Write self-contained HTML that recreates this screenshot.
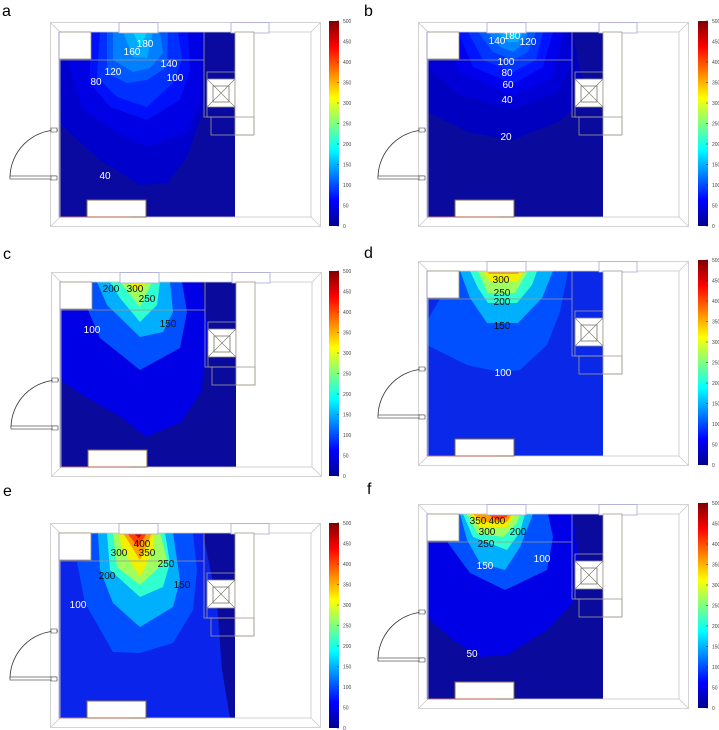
<!DOCTYPE html>
<html><head><meta charset="utf-8"><style>
html,body{margin:0;padding:0;background:#fff;}
svg{display:block;}
text{font-family:"Liberation Sans",sans-serif;}
.lb{font-size:10px;text-anchor:middle;}
.w{fill:#fff;} .k{fill:#111;}
.cb{font-size:5px;fill:#444;}
.pl{font-size:16px;fill:#000;}
</style></head><body>
<svg width="719" height="730" viewBox="0 0 719 730" xmlns="http://www.w3.org/2000/svg">
<defs>
<linearGradient id="jet" x1="0" y1="1" x2="0" y2="0">
<stop offset="0" stop-color="#00008f"/><stop offset="0.125" stop-color="#0000ff"/>
<stop offset="0.375" stop-color="#00ffff"/><stop offset="0.625" stop-color="#ffff00"/>
<stop offset="0.875" stop-color="#ff0000"/><stop offset="1" stop-color="#800000"/>
</linearGradient>
<clipPath id="fl"><rect x="9" y="10" width="176" height="185"/></clipPath>
<g id="room" fill="none" stroke-width="0.8">
  <rect x="0.5" y="0.5" width="270" height="204" stroke="#c8c8c8"/>
  <rect x="10" y="10" width="251" height="185" stroke="#c8c8c8"/>
  <path d="M0.5,0.5L10,10M270.5,0.5L261,10M0.5,204.5L10,195M270.5,204.5L261,195" stroke="#c8c8c8"/>
  <rect x="69" y="0.5" width="39" height="10.5" fill="#fff" stroke="#a8a8d8"/>
  <rect x="181" y="0.5" width="38" height="10.5" fill="#fff" stroke="#a8a8d8"/>
  <rect x="9" y="10" width="32" height="27" fill="#fff" stroke="#9a9080"/>
  <path d="M9,38H154" stroke="#999"/>
  <path d="M154,10V95H185" stroke="#9a9aa8"/>
  <rect x="157" y="50" width="28" height="45" stroke="#999"/>
  <rect x="157" y="57" width="28" height="28" fill="#fff" stroke="#888"/>
  <rect x="163" y="64" width="16" height="16" stroke="#776"/>
  <path d="M157,57L185,85M185,57L157,85" stroke="#776" stroke-width="0.6"/>
  <rect x="185" y="10" width="19" height="103" fill="#fff" stroke="#a09a90"/>
  <rect x="161" y="95" width="43" height="18" stroke="#a09a90"/>
  <rect x="37" y="178" width="59" height="17" fill="#fff" stroke="#8a6a4a" stroke-width="1"/>
  <path d="M9,195H80" stroke="#c06050"/>
  <path d="M8,108A48,48 0 0 0 -40,156" stroke="#333"/>
  <rect x="-40" y="154" width="46" height="3" fill="#fff" stroke="#333" stroke-width="0.6"/>
  <path d="M1,106h6v4h-6zM1,154h6v4h-6z" fill="#fff" stroke="#333" stroke-width="0.6"/>
  <path d="M9,10V195" stroke="#a0a0c8"/>
</g>
<g id="cbar">
  <rect x="0" y="0" width="10" height="205" fill="url(#jet)"/>
  <path d="M10,0h-2M10,20.5h-2M10,41h-2M10,61.5h-2M10,82h-2M10,102.5h-2M10,123h-2M10,143.5h-2M10,164h-2M10,184.5h-2M10,205h-2" stroke="#222" stroke-width="0.5"/>
</g>
</defs>

<!-- labels -->
<text class="pl" x="2" y="16">a</text>
<text class="pl" x="364" y="16">b</text>
<text class="pl" x="3" y="259">c</text>
<text class="pl" x="364" y="258">d</text>
<text class="pl" x="3" y="496">e</text>
<text class="pl" x="367" y="494">f</text>

<!-- Panel a -->
<g transform="translate(50,22)">
 <g clip-path="url(#fl)">
  <rect x="9" y="10" width="176" height="185" fill="#0a0aa0"/>
  <polygon fill="#0000cc" points="9,38 9,101 50,138 90,163 117,161 137,135 153,88 155,10 41,10 41,37"/>
  <polygon fill="#0000e4" points="41,10 41,37 17,38 33,88 70,112 97,125 137,111 150,78 152,10"/>
  <polygon fill="#0010fa" points="40,10 40,61 60,85 97,98 130,78 140,48 138,10"/>
  <polygon fill="#0030ff" points="50,10 47,55 67,75 97,85 123,61 132,38 128,10"/>
  <polygon fill="#0058ff" points="57,10 57,51 77,61 97,58 117,45 118,10"/>
  <polygon fill="#0080ff" points="63,10 63,38 83,50 100,46 113,31 110,10"/>
  <polygon fill="#00a8ff" points="73,10 83,35 97,36 103,10"/>
  <polygon fill="#00d4ff" points="83,10 90,25 97,10"/>
 </g>
 <use href="#room"/>
 <g class="lb w"><text x="95" y="25">180</text><text x="82" y="33">160</text><text x="119" y="45">140</text><text x="125" y="59">100</text><text x="63" y="53">120</text><text x="46" y="63">80</text><text x="55" y="157">40</text></g>
</g>
<g transform="translate(329,21)"><use href="#cbar"/>
 <g class="cb"><text x="14" y="2">500</text><text x="14" y="22.5">450</text><text x="14" y="43">400</text><text x="14" y="63.5">350</text><text x="14" y="84">300</text><text x="14" y="104.5">250</text><text x="14" y="125">200</text><text x="14" y="145.5">150</text><text x="14" y="166">100</text><text x="14" y="186.5">50</text><text x="14" y="207">0</text></g></g>

<!-- Panel b -->
<g transform="translate(418,22)">
 <g clip-path="url(#fl)">
  <rect x="9" y="10" width="176" height="185" fill="#0a0a9c"/>
  <polygon fill="#0000c0" points="9,10 9,90 50,110 95,118 140,100 170,75 160,40 155,10"/>
  <polygon fill="#0000d6" points="15,10 9,45 40,72 95,88 140,70 155,40 150,10"/>
  <polygon fill="#0000ec" points="30,10 40,50 95,74 135,55 145,10"/>
  <polygon fill="#0014ff" points="40,10 55,45 95,62 125,45 135,10"/>
  <polygon fill="#0034ff" points="50,10 65,38 95,50 118,38 125,10"/>
  <polygon fill="#0058ff" points="60,10 75,30 95,38 110,30 118,10"/>
  <polygon fill="#0084ff" points="70,10 82,25 95,30 105,22 110,10"/>
  <polygon fill="#00b0ff" points="80,10 90,20 100,20 105,10"/>
  <polygon fill="#00d8ff" points="86,10 95,17 100,10"/>
 </g>
 <use href="#room"/>
 <g class="lb w"><text x="79" y="22">140</text><text x="94" y="17">180</text><text x="110" y="23">120</text><text x="88" y="43">100</text><text x="89" y="54">80</text><text x="90" y="66">60</text><text x="89" y="81">40</text><text x="88" y="118">20</text></g>
</g>
<g transform="translate(698,21)"><use href="#cbar"/>
 <g class="cb"><text x="14" y="2">500</text><text x="14" y="22.5">450</text><text x="14" y="43">400</text><text x="14" y="63.5">350</text><text x="14" y="84">300</text><text x="14" y="104.5">250</text><text x="14" y="125">200</text><text x="14" y="145.5">150</text><text x="14" y="166">100</text><text x="14" y="186.5">50</text><text x="14" y="207">0</text></g></g>

<!-- Panel c -->
<g transform="translate(51,272)">
 <g clip-path="url(#fl)">
  <rect x="9" y="10" width="176" height="185" fill="#0a0a9c"/>
  <polygon fill="#0000e6" points="9,10 9,108 35,125 70,145 95,165 130,150 150,120 158,60 150,10"/>
  <polygon fill="#0050ff" points="33,10 37,38 49,66 89,98 129,76 136,40 131,10"/>
  <polygon fill="#00b0ff" points="46,10 56,33 89,65 112,60 122,40 119,10"/>
  <polygon fill="#30ffd0" points="59,10 69,26 89,50 106,33 109,10"/>
  <polygon fill="#a0ff60" points="69,10 89,35 101,10"/>
  <polygon fill="#f0f000" points="76,10 87,20 96,10"/>
 </g>
 <use href="#room"/>
 <g class="lb k"><text x="60" y="20">200</text><text x="84" y="20">300</text><text x="96" y="30">250</text><text x="117" y="55">150</text></g>
 <text class="lb w" x="41" y="61">100</text>
</g>
<g transform="translate(329,271)"><use href="#cbar"/>
 <g class="cb"><text x="14" y="2">500</text><text x="14" y="22.5">450</text><text x="14" y="43">400</text><text x="14" y="63.5">350</text><text x="14" y="84">300</text><text x="14" y="104.5">250</text><text x="14" y="125">200</text><text x="14" y="145.5">150</text><text x="14" y="166">100</text><text x="14" y="186.5">50</text><text x="14" y="207">0</text></g></g>

<!-- Panel d -->
<g transform="translate(418,261)">
 <g clip-path="url(#fl)">
  <rect x="9" y="10" width="176" height="185" fill="#0a28e8"/>
  <polygon fill="#0050ff" points="9,60 9,84 49,104 82,111 102,109 129,84 142,51 150,10 41,10 41,37 22,38"/>
  <polygon fill="#00b0ff" points="42,10 52,37 69,62 100,62 124,37 135,10"/>
  <polygon fill="#30ffd0" points="52,10 60,27 70,42 99,42 114,24 119,10"/>
  <polygon fill="#a0ff60" points="60,10 70,32 97,32 110,10"/>
  <polygon fill="#f0f000" points="65,10 72,21 99,21 107,10"/>
  <polygon fill="#ffa000" points="69,10 71,13 100,13 102,10"/>
 </g>
 <use href="#room"/>
 <g class="lb k"><text x="83" y="22">300</text><text x="84" y="35">250</text><text x="84" y="44">200</text><text x="84" y="68">150</text></g>
 <text class="lb w" x="85" y="115">100</text>
</g>
<g transform="translate(698,260)"><use href="#cbar"/>
 <g class="cb"><text x="14" y="2">500</text><text x="14" y="22.5">450</text><text x="14" y="43">400</text><text x="14" y="63.5">350</text><text x="14" y="84">300</text><text x="14" y="104.5">250</text><text x="14" y="125">200</text><text x="14" y="145.5">150</text><text x="14" y="166">100</text><text x="14" y="186.5">50</text><text x="14" y="207">0</text></g></g>

<!-- Panel e -->
<g transform="translate(50,523)">
 <g clip-path="url(#fl)">
  <rect x="9" y="10" width="176" height="185" fill="#0a24ec"/>
  <polygon fill="#0a0a9c" points="153,10 185,10 185,195 180,195 172,147 167,80"/>
  <polygon fill="#0050ff" points="41,10 41,38 27,39 35,80 63,129 90,130 123,120 143,87 147,47 143,10"/>
  <polygon fill="#00b0ff" points="48,10 50,47 63,80 90,104 123,84 130,57 123,10"/>
  <polygon fill="#30ffd0" points="57,10 60,47 90,74 113,64 120,40 115,10"/>
  <polygon fill="#a0ff60" points="63,10 67,44 90,62 117,37 110,10"/>
  <polygon fill="#f0f000" points="68,10 73,27 90,54 103,27 105,10"/>
  <polygon fill="#ffa000" points="73,10 90,37 102,10"/>
  <polygon fill="#ff4000" points="77,10 88,24 97,10"/>
  <polygon fill="#d00000" points="83,10 89,15 93,10"/>
 </g>
 <use href="#room"/>
 <g class="lb k"><text x="92" y="24">400</text><text x="69" y="33">300</text><text x="97" y="33">350</text><text x="116" y="44">250</text><text x="57" y="56">200</text><text x="132" y="65">150</text></g>
 <text class="lb w" x="28" y="85">100</text>
</g>
<g transform="translate(329,523)"><use href="#cbar"/>
 <g class="cb"><text x="14" y="2">500</text><text x="14" y="22.5">450</text><text x="14" y="43">400</text><text x="14" y="63.5">350</text><text x="14" y="84">300</text><text x="14" y="104.5">250</text><text x="14" y="125">200</text><text x="14" y="145.5">150</text><text x="14" y="166">100</text><text x="14" y="186.5">50</text><text x="14" y="207">0</text></g></g>

<!-- Panel f -->
<g transform="translate(418,504)">
 <g clip-path="url(#fl)">
  <rect x="9" y="10" width="176" height="185" fill="#0a0a9c"/>
  <polygon fill="#0000e6" points="9,10 9,113 35,136 62,153 89,151 129,126 155,99 162,66 155,10"/>
  <polygon fill="#0050ff" points="32,10 30,39 52,69 87,86 129,66 135,33 130,10"/>
  <polygon fill="#00b0ff" points="42,10 49,36 62,59 87,66 102,43 115,10"/>
  <polygon fill="#30ffd0" points="45,10 55,33 89,46 102,28 107,10"/>
  <polygon fill="#a0ff60" points="49,10 59,29 85,33 99,19 102,10"/>
  <polygon fill="#f0f000" points="52,10 62,23 89,23 97,10"/>
  <polygon fill="#ffa000" points="55,10 65,18 89,18 94,10"/>
  <polygon fill="#ff4000" points="69,10 79,16 89,13 90,10"/>
 </g>
 <use href="#room"/>
 <g class="lb k"><text x="60" y="20">350</text><text x="79" y="20">400</text><text x="69" y="31">300</text><text x="100" y="31">200</text><text x="68" y="43">250</text></g>
 <g class="lb w"><text x="67" y="65">150</text><text x="124" y="58">100</text><text x="54" y="153">50</text></g>
</g>
<g transform="translate(698,503)"><use href="#cbar"/>
 <g class="cb"><text x="14" y="2">500</text><text x="14" y="22.5">450</text><text x="14" y="43">400</text><text x="14" y="63.5">350</text><text x="14" y="84">300</text><text x="14" y="104.5">250</text><text x="14" y="125">200</text><text x="14" y="145.5">150</text><text x="14" y="166">100</text><text x="14" y="186.5">50</text><text x="14" y="207">0</text></g></g>
</svg>
</body></html>
